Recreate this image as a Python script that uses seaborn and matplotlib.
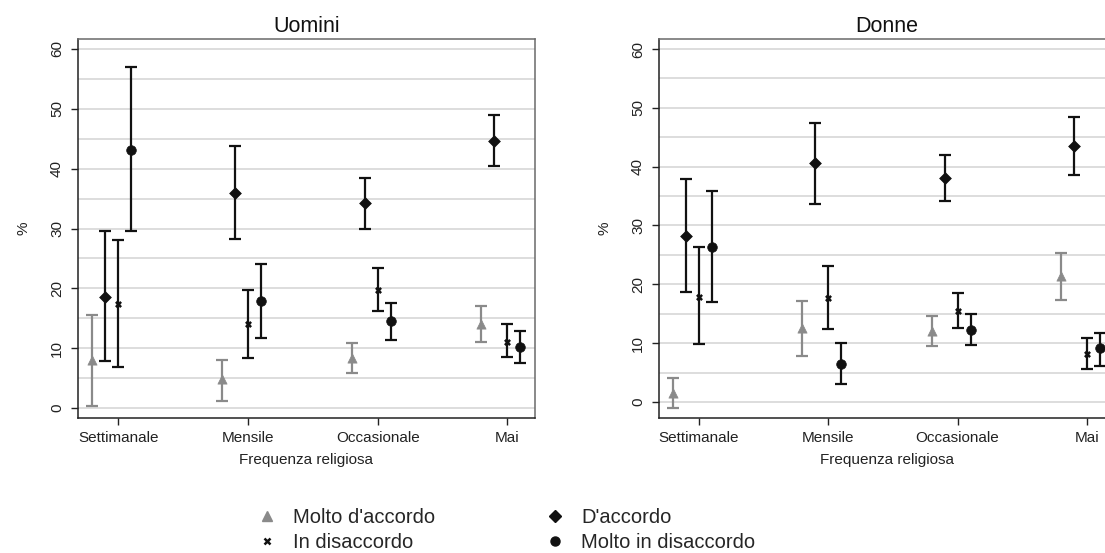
import pandas as pd
import seaborn as sns
import matplotlib.pyplot as plt
from matplotlib.lines import Line2D

categorie = ["Settimanale", "Mensile", "Occasionale", "Mai"]
risposte = ["Molto d'accordo", "D'accordo", "In disaccordo", "Molto in disaccordo"]

# Uomini: stima, limite inferiore e superiore dell'intervallo
u_molto_acc = [8.0, 4.8, 8.4, 14.0]
u_molto_acc_lo = [0.4, 1.2, 5.9, 11.0]
u_molto_acc_hi = [15.5, 8.1, 10.9, 17.0]
u_acc = [18.6, 36.0, 34.2, 44.7]
u_acc_lo = [7.9, 28.2, 29.9, 40.4]
u_acc_hi = [29.5, 43.8, 38.5, 49.0]
u_dis = [17.3, 14.0, 19.8, 11.1]
u_dis_lo = [6.9, 8.4, 16.2, 8.5]
u_dis_hi = [28.0, 19.8, 23.4, 14.0]
u_molto_dis = [43.2, 17.9, 14.5, 10.2]
u_molto_dis_lo = [29.5, 11.7, 11.3, 7.6]
u_molto_dis_hi = [57.0, 24.1, 17.6, 12.8]

# Donne
d_molto_acc = [1.5, 12.5, 12.1, 21.4]
d_molto_acc_lo = [-1.1, 7.9, 9.5, 17.3]
d_molto_acc_hi = [4.0, 17.1, 14.6, 25.4]
d_acc = [28.3, 40.6, 38.0, 43.5]
d_acc_lo = [18.7, 33.7, 34.2, 38.5]
d_acc_hi = [37.9, 47.4, 41.9, 48.4]
d_dis = [17.9, 17.6, 15.5, 8.1]
d_dis_lo = [9.9, 12.4, 12.6, 5.6]
d_dis_hi = [26.3, 23.1, 18.5, 10.9]
d_molto_dis = [26.4, 6.5, 12.3, 9.1]
d_molto_dis_lo = [17.0, 3.1, 9.7, 6.2]
d_molto_dis_hi = [35.8, 10.0, 15.0, 11.7]

# stile
spost = {"Molto d'accordo": -0.2, "D'accordo": -0.1, "In disaccordo": 0.0, "Molto in disaccordo": 0.1}
colori = {"Molto d'accordo": "#8a8a8a", "D'accordo": "#111111", "In disaccordo": "#111111", "Molto in disaccordo": "#111111"}
marcatori = {"Molto d'accordo": "^", "D'accordo": "D", "In disaccordo": "x", "Molto in disaccordo": "o"}
dimensioni = {"Molto d'accordo": 44, "D'accordo": 36, "In disaccordo": 14, "Molto in disaccordo": 48}

sns.set_style("white")
plt.rcParams["font.family"] = ["Liberation Sans", "DejaVu Sans"]
testo = "#222222"


def tabella(stime, lo, hi):
    righe = []
    for r, s, l, h in zip(risposte, stime, lo, hi):
        for i, c in enumerate(categorie):
            righe.append({"freq": c, "pos": i + 1 + spost[r], "risposta": r,
                          "val": s[i], "lo": l[i], "hi": h[i]})
    return pd.DataFrame(righe)


uomini = tabella([u_molto_acc, u_acc, u_dis, u_molto_dis],
                 [u_molto_acc_lo, u_acc_lo, u_dis_lo, u_molto_dis_lo],
                 [u_molto_acc_hi, u_acc_hi, u_dis_hi, u_molto_dis_hi])
donne = tabella([d_molto_acc, d_acc, d_dis, d_molto_dis],
                [d_molto_acc_lo, d_acc_lo, d_dis_lo, d_molto_dis_lo],
                [d_molto_acc_hi, d_acc_hi, d_dis_hi, d_molto_dis_hi])


def pannello(ax, df, titolo, ylim):
    for y in range(0, 61, 5):
        ax.axhline(y, color="#dddddd", lw=1.4, zorder=0)
    for r in risposte:
        d = df[df["risposta"] == r]
        ax.errorbar(d["pos"], d["val"], yerr=[d["val"] - d["lo"], d["hi"] - d["val"]],
                    fmt="none", ecolor=colori[r], elinewidth=1.6, capsize=4,
                    capthick=1.6, zorder=2)
        if marcatori[r] == "x":
            sns.scatterplot(data=d, x="pos", y="val", marker="x", s=dimensioni[r],
                            color=colori[r], linewidth=1.8, ax=ax, zorder=3, legend=False)
        else:
            sns.scatterplot(data=d, x="pos", y="val", marker=marcatori[r], s=dimensioni[r],
                            color=colori[r], edgecolor=colori[r], linewidth=0.5,
                            ax=ax, zorder=3, legend=False)
    ax.set_xlim(0.69, 4.21)
    ax.set_ylim(*ylim)
    ax.set_xticks([1, 2, 3, 4], categorie)
    ax.set_yticks(range(0, 61, 10))
    ax.tick_params(axis="both", direction="out", length=5, width=1, color="#222222",
                   labelsize=11, labelcolor=testo, left=True, bottom=True)
    ax.tick_params(axis="y", labelrotation=90, pad=5)
    ax.tick_params(axis="x", pad=4)
    for t in ax.get_yticklabels():
        t.set_va("center")
    ax.set_xlabel("Frequenza religiosa", fontsize=11, color=testo, labelpad=6)
    ax.set_ylabel("%", fontsize=11, color=testo, labelpad=14)
    ax.set_title(titolo, fontsize=15.5, color="#111111", pad=5)
    for lato in ["left", "bottom"]:
        ax.spines[lato].set_color("#222222")
        ax.spines[lato].set_linewidth(1.1)
    for lato in ["top", "right"]:
        ax.spines[lato].set_color("#6a6a6a")
        ax.spines[lato].set_linewidth(1.1)


fig = plt.figure(figsize=(11.05, 5.53), dpi=100)
ax1 = fig.add_axes([78 / 1105, 1 - 418 / 553, 456.6 / 1105, 379 / 553])
ax2 = fig.add_axes([659 / 1105, 1 - 418 / 553, 455 / 1105, 379 / 553])

pannello(ax1, uomini, "Uomini", (-1.67, 61.67))
pannello(ax2, donne, "Donne", (-2.72, 61.7))

ordine = ["Molto d'accordo", "In disaccordo", "D'accordo", "Molto in disaccordo"]
maniglie = []
for r in ordine:
    if marcatori[r] == "x":
        maniglie.append(Line2D([], [], ls="none", marker="x", ms=4, mew=1.8, color=colori[r]))
    else:
        maniglie.append(Line2D([], [], ls="none", marker=marcatori[r], ms=6.5, color=colori[r]))
fig.legend(maniglie, ordine, ncol=2, loc="center", bbox_to_anchor=(0.458, 0.041),
           frameon=False, fontsize=14.5, handlelength=1, handletextpad=0.8,
           columnspacing=5.45, labelspacing=0.3)

fig.savefig("out.png", dpi=100)
